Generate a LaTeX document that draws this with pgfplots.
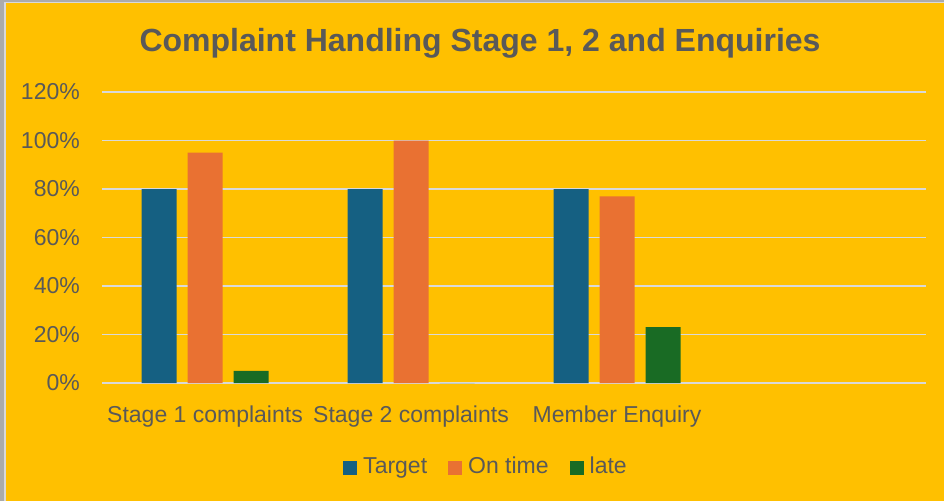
\documentclass[border=0pt]{standalone}
\usepackage{pgfplots}
\pgfplotsset{compat=1.18}
\usepackage{fontspec}
\setmainfont{Liberation Sans}
\definecolor{bg}{HTML}{FFC000}
\definecolor{txt}{HTML}{595959}
\definecolor{gridc}{HTML}{D9D9D9}
\definecolor{cT}{HTML}{156082}
\definecolor{cO}{HTML}{E97132}
\definecolor{cL}{HTML}{196B24}
\definecolor{framec}{HTML}{ABABAB}
\begin{document}
\begin{tikzpicture}[x=1pt,y=1pt]
\fill[framec] (0,0) rectangle (944,501);
\fill[gridc] (4,0) rectangle (944,499);
\fill[bg] (6,0) rectangle (944,498);
\node[anchor=base, text=txt, font=\fontsize{32}{38}\selectfont\bfseries, inner sep=0pt] at (480,449) {Complaint Handling Stage 1, 2 and Enquiries};
\begin{axis}[
  at={(102pt,118pt)}, anchor=south west,
  scale only axis, width=824pt, height=291pt,
  ybar=11pt, bar width=35pt,
  xmin=-0.5, xmax=3.5, ymin=0, ymax=120,
  xtick={0,1,2}, xticklabels={Stage 1 complaints, Stage 2 complaints, Member Enquiry},
  ytick={0,20,...,120}, yticklabels={0\%,20\%,40\%,60\%,80\%,100\%,120\%},
  major tick length=0pt,
  axis line style={draw=none},
  ymajorgrids, grid style={gridc, line width=1.5pt},
  tick label style={text=txt, font=\fontsize{23}{27}\selectfont},
  xticklabel style={anchor=base, yshift=-39pt, inner sep=0pt},
  yticklabel style={anchor=east, inner sep=0pt, xshift=-22pt},
  legend style={at={(0.4648,-0.285)}, anchor=center, draw=none, fill=none,
    legend columns=-1, font=\fontsize{23}{27}\selectfont, text=txt,
    nodes={inner sep=0pt, anchor=base},
    /tikz/every odd column/.append style={column sep=6pt},
    /tikz/every even column/.append style={column sep=21pt}},
  legend image code/.code={\path[#1] (0pt,-1pt) rectangle (14pt,13pt);},
]
\addplot[fill=cT, draw=none] coordinates {(0,80) (1,80) (2,80)};
\addplot[fill=cO, draw=none] coordinates {(0,95) (1,100) (2,77)};
\addplot[fill=cL, draw=none] coordinates {(0,5) (1,0) (2,23)};
\legend{Target, On time, late}
\end{axis}
\end{tikzpicture}
\end{document}
